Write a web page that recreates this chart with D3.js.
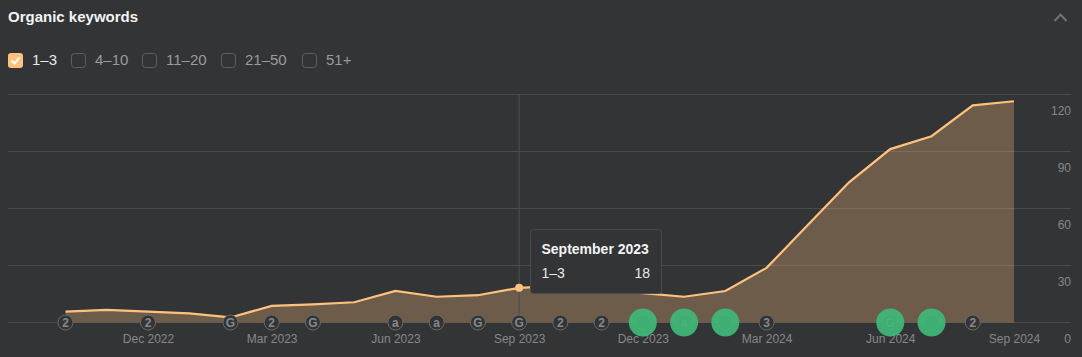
<!DOCTYPE html>
<html>
<head>
<meta charset="utf-8">
<script src="https://cdn.jsdelivr.net/npm/d3@7"></script>
<style>
  html, body { margin:0; padding:0; background:#333436; overflow:hidden; }
  text { font-family:"Liberation Sans", Arial, sans-serif; }
</style>
</head>
<body>
<div id="chart"></div>
<script>
var months = ["Oct 2022","Nov 2022","Dec 2022","Jan 2023","Feb 2023","Mar 2023","Apr 2023","May 2023",
              "Jun 2023","Jul 2023","Aug 2023","Sep 2023","Oct 2023","Nov 2023","Dec 2023","Jan 2024",
              "Feb 2024","Mar 2024","Apr 2024","May 2024","Jun 2024","Jul 2024","Aug 2024","Sep 2024"];
var keywords = [5.5,6.4,5.5,4.5,2.4,8.5,9.3,10.4,16.4,13.3,14.1,18,19,17.5,15.2,13.3,16.3,28.5,51,73.5,91,97.8,114,116.2];
var xTicks = ["Dec 2022","Mar 2023","Jun 2023","Sep 2023","Dec 2023","Mar 2024","Jun 2024","Sep 2024"];
var yTicks = [0,30,60,90,120];
var legendLabels = ["1–3","4–10","11–20","21–50","51+"];
var markerMonths = ["Oct 2022","Dec 2022","Feb 2023","Mar 2023","Apr 2023","Jun 2023","Jul 2023","Aug 2023","Sep 2023",
                    "Oct 2023","Nov 2023","Dec 2023","Jan 2024","Feb 2024","Mar 2024","Jun 2024","Jul 2024","Aug 2024"];
var markerLabels = ["2","2","G","2","G","a","a","G","G","2","2","","a","","3","G","","2"];
var markerGreen = [0,0,0,0,0,0,0,0,0,0,0,1,1,1,0,1,1,0];

var w = 1082, h = 357;
var margin = { left:8, right:11, top:94, bottom:35 };

var svg = d3.select("#chart").append("svg")
    .attr("width", w)
    .attr("height", h)
    .style("display","block");

svg.append("rect").attr("width", w).attr("height", h).attr("fill", "#333436");

// --------- header
svg.append("text")
    .attr("x", 8).attr("y", 22)
    .attr("font-size", 15).attr("font-weight", "bold")
    .attr("fill", "#f2f3f5")
    .text("Organic keywords");

svg.append("path")
    .attr("d", "M1054.5 21L1060.5 14.5L1066.5 21")
    .attr("fill", "none").attr("stroke", "#717274").attr("stroke-width", 2);

// --------- legend
var legendX = [8, 71, 142, 221, 302];
var legend = svg.selectAll(".legendItem")
    .data(legendLabels)
    .enter().append("g")
    .attr("class", "legendItem")
    .attr("transform", function(d, i) { return "translate(" + legendX[i] + ",53)"; });

legend.append("rect")
    .attr("x", function(d, i) { return i ? 0.5 : 0; })
    .attr("y", function(d, i) { return i ? 0.5 : 0; })
    .attr("width", function(d, i) { return i ? 14 : 15; })
    .attr("height", function(d, i) { return i ? 14 : 15; })
    .attr("rx", 3)
    .attr("fill", function(d, i) { return i ? "none" : "#ffc27e"; })
    .attr("stroke", function(d, i) { return i ? "#5f6062" : "none"; });

legend.filter(function(d, i) { return i === 0; }).append("path")
    .attr("d", "M3.5 7.5L6.5 10.5L11.5 4.5")
    .attr("fill", "none").attr("stroke", "#fff").attr("stroke-width", 2);

legend.append("text")
    .attr("x", 24)
    .attr("y", 12)
    .attr("font-size", 15)
    .attr("fill", function(d, i) { return i ? "#9a9b9d" : "#e8e9ea"; })
    .text(function(d) { return d; });

// --------- scales
var xScale = d3.scalePoint()
    .domain(months)
    .range([65.5, 1014]);

var yScale = d3.scaleLinear()
    .domain([0, 120])
    .range([h - margin.bottom, margin.top]);

// --------- y axis + gridlines
var yAxisGroup = svg.append("g")
    .attr("class", "y axis")
    .attr("transform", "translate(" + margin.left + ",0)")
    .call(d3.axisRight(yScale).tickValues(yTicks).tickSize(w - margin.left - margin.right).tickFormat(d3.format("d")));
yAxisGroup.select(".domain").remove();
yAxisGroup.selectAll("line").attr("stroke", "#4a4b4d");
yAxisGroup.selectAll("text")
    .attr("x", w - margin.left - margin.right)
    .attr("y", 20)
    .attr("dy", 0)
    .attr("text-anchor", "end")
    .attr("font-size", 12)
    .attr("fill", "#87888a");

// --------- x axis
var xAxisGroup = svg.append("g")
    .attr("class", "x axis")
    .attr("transform", "translate(0," + (h - margin.bottom) + ")")
    .call(d3.axisBottom(xScale).tickValues(xTicks).tickSize(0));
xAxisGroup.select(".domain").remove();
xAxisGroup.selectAll("text")
    .attr("y", 21)
    .attr("dy", 0)
    .attr("font-size", 12)
    .attr("fill", "#87888a");

// --------- area + line
var area = d3.area()
    .x(function(d, i) { return xScale(months[i]); })
    .y0(yScale(0) + 0.5)
    .y1(function(d) { return yScale(d); });

var line = d3.line()
    .x(function(d, i) { return xScale(months[i]); })
    .y(function(d) { return yScale(d); });

svg.append("path")
    .datum(keywords)
    .attr("d", area)
    .attr("fill", "#ffc27e")
    .attr("fill-opacity", 0.29);

svg.append("line")
    .attr("x1", xScale("Sep 2023")).attr("x2", xScale("Sep 2023"))
    .attr("y1", margin.top).attr("y2", yScale(0))
    .attr("stroke", "#4d4e50");

svg.append("path")
    .datum(keywords)
    .attr("d", line)
    .attr("fill", "none")
    .attr("stroke", "#ffc27e")
    .attr("stroke-width", 2.2);

svg.append("circle")
    .attr("cx", xScale("Sep 2023"))
    .attr("cy", yScale(keywords[months.indexOf("Sep 2023")]))
    .attr("r", 4)
    .attr("fill", "#ffc27e");

// --------- annotation markers
var markers = svg.selectAll(".marker")
    .data(markerMonths)
    .enter().append("g")
    .attr("class", "marker")
    .attr("transform", function(d) { return "translate(" + xScale(d) + "," + (yScale(0) + 0.5) + ")"; });

markers.append("circle")
    .attr("r", 7.5)
    .attr("fill", "#333436")
    .attr("stroke", "#6a6b6d");

markers.append("text")
    .attr("y", 4.5)
    .attr("text-anchor", "middle")
    .attr("font-size", 12)
    .attr("font-weight", "bold")
    .attr("fill", "#87888a")
    .text(function(d, i) { return markerLabels[i]; });

markers.filter(function(d, i) { return markerGreen[i] === 1; }).append("circle")
    .attr("r", 14)
    .attr("fill", "#40b977")
    .attr("fill-opacity", 0.92);

// --------- tooltip
var tip = svg.append("g").attr("transform", "translate(530,229)");

tip.append("rect")
    .attr("x", 0.5).attr("y", 0.5)
    .attr("width", 131).attr("height", 64)
    .attr("rx", 3)
    .attr("fill", "#333436")
    .attr("stroke", "#4a4b4d");

tip.append("text")
    .attr("x", 11.5).attr("y", 25)
    .attr("font-size", 14).attr("font-weight", "bold")
    .attr("fill", "#f2f3f5")
    .text("September 2023");

tip.append("text")
    .attr("x", 11.5).attr("y", 49)
    .attr("font-size", 14)
    .attr("fill", "#e8e9ea")
    .text(legendLabels[0]);

tip.append("text")
    .attr("x", 120).attr("y", 49)
    .attr("text-anchor", "end")
    .attr("font-size", 14)
    .attr("fill", "#e8e9ea")
    .text(d3.format("d")(keywords[months.indexOf("Sep 2023")]));
</script>
</body>
</html>
